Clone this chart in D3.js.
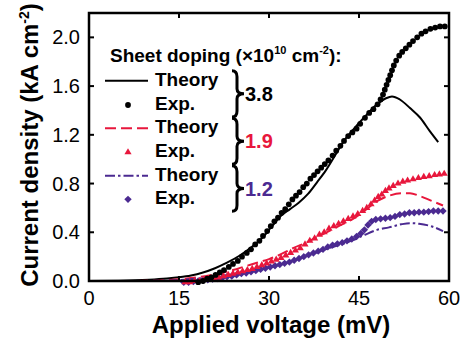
<!DOCTYPE html>
<html>
<head>
<meta charset="utf-8">
<script src="https://cdn.jsdelivr.net/npm/d3@7"></script>
<style>
  body { margin: 0; background: #fff; }
  text { font-family: "Liberation Sans", Arial, sans-serif; }
</style>
</head>
<body>
<div id="canvas"></div>
<script>
"use strict"

/* Data: [voltage mV, current density kA/cm2] */
let exp38 = [
  [18.2,-0.01],[19.0,0.00],[19.7,0.02],[20.4,0.03],[21.1,0.05],[21.8,0.07],[22.5,0.09],
  [23.3,0.115],[24.0,0.14],[24.8,0.165],[25.5,0.20],[26.3,0.23],[27.0,0.26],[27.7,0.30],
  [28.4,0.33],[29.0,0.37],[29.7,0.41],[30.3,0.45],[30.9,0.49],[31.5,0.52],[32.1,0.56],
  [32.7,0.59],[33.3,0.63],[33.9,0.67],[34.5,0.70],[35.1,0.73],[35.7,0.77],[36.3,0.80],
  [36.9,0.84],[37.5,0.87],[38.1,0.90],[38.7,0.93],[39.3,0.96],[39.9,0.99],[40.6,1.03],
  [41.2,1.07],[41.9,1.11],[42.5,1.15],[43.2,1.19],[43.9,1.22],[44.6,1.25],[45.2,1.29],
  [46.0,1.34],[46.7,1.38],[47.4,1.41],[48.1,1.45],[48.6,1.49],[49.0,1.53],[49.3,1.57],
  [49.6,1.61],[49.9,1.65],[50.2,1.69],[50.5,1.73],[50.8,1.77],[51.2,1.81],[51.7,1.85],
  [52.2,1.88],[52.8,1.91],[53.4,1.94],[54.0,1.97],[54.7,2.00],[55.4,2.03],[56.1,2.05],
  [56.9,2.07],[57.7,2.08],[58.5,2.09],[59.3,2.09]
];
let theory38 = [
  [0,0],[5,0.002],[10,0.01],[13,0.02],[15,0.03],[17,0.045],[19,0.07],[21,0.105],[23,0.15],
  [25,0.205],[27,0.275],[29,0.36],[30.5,0.45],[32,0.535],[33.5,0.59],[35,0.645],[36.5,0.715],
  [38,0.81],[39.5,0.91],[41,1.03],[42.5,1.15],[44,1.24],[46,1.35],[48,1.45],[49.5,1.50],
  [50.5,1.515],[51.8,1.49],[53.5,1.42],[55.2,1.34],[56.8,1.23],[58.2,1.14]
];
let exp19 = [
  [16.0,-0.01],[16.8,-0.01],[17.6,0.0],[18.4,0.0],[19.2,0.01],[20.0,0.015],[20.8,0.02],
  [21.6,0.03],[22.4,0.04],[23.2,0.05],[24.0,0.06],[24.8,0.07],[25.6,0.08],[26.4,0.09],
  [27.2,0.10],[28.0,0.115],[28.8,0.13],[29.6,0.145],[30.4,0.16],[31.2,0.175],[32.0,0.19],
  [32.8,0.21],[33.6,0.23],[34.4,0.25],[35.2,0.27],[36.0,0.30],[36.8,0.33],[37.6,0.35],
  [38.4,0.38],[39.2,0.40],[40.0,0.43],[40.8,0.45],[41.6,0.47],[42.4,0.49],[43.2,0.51],
  [44.0,0.53],[44.8,0.55],[45.6,0.575],[46.3,0.60],[47.0,0.63],[47.6,0.66],[48.2,0.69],
  [48.8,0.71],[49.4,0.74],[50.0,0.76],[50.7,0.78],[51.5,0.80],[52.3,0.815],[53.1,0.825],
  [54.0,0.835],[54.9,0.845],[55.8,0.855],[56.7,0.86],[57.6,0.87],[58.4,0.875],[59.2,0.88]
];
let theory19 = [
  [8,0],[12,0.005],[15,0.015],[18,0.03],[20,0.045],[22,0.065],[24,0.09],[26,0.12],[28,0.15],
  [30,0.18],[32,0.22],[34,0.27],[36,0.31],[38,0.36],[40,0.41],[42,0.46],[44,0.51],[46,0.58],
  [48,0.655],[50,0.70],[52,0.72],[53.5,0.72],[55,0.70],[57,0.66],[59,0.62]
];
let exp12 = [
  [15.8,-0.01],[16.6,-0.01],[17.4,-0.005],[18.2,0.0],[19.0,0.005],[19.8,0.01],[20.6,0.015],
  [21.4,0.02],[22.2,0.025],[23.0,0.035],[23.8,0.04],[24.6,0.05],[25.4,0.06],[26.2,0.065],
  [27.0,0.075],[27.8,0.085],[28.6,0.095],[29.4,0.105],[30.2,0.115],[31.0,0.125],[31.8,0.135],
  [32.6,0.145],[33.4,0.155],[34.2,0.17],[35.0,0.185],[35.8,0.20],[36.6,0.215],[37.4,0.23],
  [38.2,0.245],[39.0,0.26],[39.8,0.28],[40.6,0.295],[41.4,0.305],[42.2,0.315],[43.0,0.33],
  [43.8,0.345],[44.6,0.365],[45.3,0.39],[45.9,0.42],[46.5,0.46],[47.1,0.49],[47.8,0.505],
  [48.6,0.51],[49.4,0.515],[50.2,0.52],[51.0,0.53],[51.8,0.545],[52.6,0.55],[53.4,0.56],
  [54.2,0.56],[55.0,0.565],[55.8,0.565],[56.6,0.57],[57.4,0.575],[58.2,0.575],[59.0,0.575]
];
let theory12 = [
  [10,0],[14,0.005],[18,0.02],[20,0.03],[22,0.04],[24,0.055],[26,0.07],[28,0.09],[30,0.11],
  [32,0.135],[34,0.165],[36,0.20],[38,0.235],[40,0.27],[42,0.30],[44,0.335],[46,0.38],
  [48,0.42],[50,0.44],[52,0.465],[53.5,0.475],[55,0.47],[57,0.45],[59,0.41]
];

let xTicks = [0, 15, 30, 45, 60];
let yTicks = [0, 0.4, 0.8, 1.2, 1.6, 2.0];
let dopings = ["3.8", "1.9", "1.2"];

/* Drawing config */
let svgWidth = 468, svgHeight = 347;
let plotLeft = 89, plotRight = 449, plotTop = 13, plotBottom = 281;
let red = "#e8173c", purple = "#4b2a91";

let svg = d3.select("#canvas").append("svg")
  .attr("width", svgWidth).attr("height", svgHeight);

let xScale = d3.scaleLinear().domain([0, 60]).range([plotLeft, plotRight]);
let yScale = d3.scaleLinear().domain([0, 2.2]).range([plotBottom, plotTop]);

let line = d3.line()
  .x(function(d) { return xScale(d[0]); })
  .y(function(d) { return yScale(d[1]); })
  .curve(d3.curveMonotoneX);

/* theory curves */
let theories = [
  {data: theory38, color: "#000", dash: null},
  {data: theory19, color: red, dash: "11,5"},
  {data: theory12, color: purple, dash: "10,3,2.5,3"}
];
theories.forEach(function(t) {
  svg.append("path")
    .attr("d", line(t.data))
    .attr("fill", "none")
    .attr("stroke", t.color)
    .attr("stroke-width", 2)
    .attr("stroke-dasharray", t.dash);
});

/* experimental points */
let symCircle = d3.symbol().type(d3.symbolCircle).size(26);
let symTri = d3.symbol().type(d3.symbolTriangle).size(22);
let symDia = d3.symbol().type(d3.symbolSquare).size(27);

let exps = [
  {data: exp12, color: purple, sym: symDia, rot: 45},
  {data: exp19, color: red, sym: symTri, rot: 0},
  {data: exp38, color: "#000", sym: symCircle, rot: 0}
];
exps.forEach(function(e) {
  svg.append("g").selectAll("path")
    .data(e.data)
    .enter()
    .append("path")
    .attr("d", e.sym())
    .attr("fill", e.color)
    .attr("transform", function(d) {
      return "translate(" + xScale(d[0]) + "," + yScale(d[1]) + ") rotate(" + e.rot + ")";
    });
});

/* frame */
svg.append("rect")
  .attr("x", plotLeft).attr("y", plotTop)
  .attr("width", plotRight - plotLeft).attr("height", plotBottom - plotTop)
  .attr("fill", "none").attr("stroke", "#000").attr("stroke-width", 2.5);

/* inward ticks */
let tickLen = 5;
let innerX = xTicks.slice(1, -1), innerY = yTicks.slice(1);
innerX.forEach(function(v) {
  svg.append("line").attr("x1", xScale(v)).attr("x2", xScale(v))
    .attr("y1", plotBottom).attr("y2", plotBottom - tickLen)
    .attr("stroke", "#000").attr("stroke-width", 2);
  svg.append("line").attr("x1", xScale(v)).attr("x2", xScale(v))
    .attr("y1", plotTop).attr("y2", plotTop + tickLen)
    .attr("stroke", "#000").attr("stroke-width", 2);
});
innerY.forEach(function(v) {
  svg.append("line").attr("x1", plotLeft).attr("x2", plotLeft + tickLen)
    .attr("y1", yScale(v)).attr("y2", yScale(v))
    .attr("stroke", "#000").attr("stroke-width", 2);
  svg.append("line").attr("x1", plotRight).attr("x2", plotRight - tickLen)
    .attr("y1", yScale(v)).attr("y2", yScale(v))
    .attr("stroke", "#000").attr("stroke-width", 2);
});

/* tick labels */
svg.append("g").selectAll("text")
  .data(xTicks).enter().append("text")
  .attr("x", function(d) { return xScale(d); })
  .attr("y", 305)
  .attr("text-anchor", "middle")
  .style("font-size", "20px")
  .text(function(d) { return d; });

svg.append("g").selectAll("text")
  .data(yTicks).enter().append("text")
  .attr("x", 80)
  .attr("y", function(d) { return yScale(d) + 7; })
  .attr("text-anchor", "end")
  .style("font-size", "20px")
  .text(function(d) { return d.toFixed(1); });

/* axis titles */
svg.append("text")
  .attr("x", 271).attr("y", 333)
  .attr("text-anchor", "middle")
  .style("font-size", "24px").style("font-weight", "bold")
  .text("Applied voltage (mV)");

let yt = svg.append("text")
  .attr("transform", "translate(38,145) rotate(-90)")
  .attr("text-anchor", "middle")
  .style("font-size", "24px").style("font-weight", "bold");
yt.append("tspan").text("Current density (kA cm");
yt.append("tspan").attr("dy", -9).style("font-size", "14px").text("-2");
yt.append("tspan").attr("dy", 9).text(")");

/* legend */
let hd = svg.append("text")
  .attr("x", 110).attr("y", 62)
  .style("font-size", "19px").style("font-weight", "bold");
hd.append("tspan").text("Sheet doping (\u00d710");
hd.append("tspan").attr("dy", -8).style("font-size", "11px").text("10");
hd.append("tspan").attr("dy", 8).text(" cm");
hd.append("tspan").attr("dy", -8).style("font-size", "11px").text("-2");
hd.append("tspan").attr("dy", 8).text("):");

let rowY = [85.7, 110, 133.3, 157.3, 180.7, 204.3];
let legColors = ["#000", red, purple];
for (let i = 0; i < 3; i = i + 1) {
  let yT = rowY[2 * i], yE = rowY[2 * i + 1];

  svg.append("line")
    .attr("x1", 105).attr("x2", 148)
    .attr("y1", yT - 5).attr("y2", yT - 5)
    .attr("stroke", theories[i].color).attr("stroke-width", 2)
    .attr("stroke-dasharray", theories[i].dash);
  svg.append("text").attr("x", 155).attr("y", yT)
    .style("font-size", "19px").style("font-weight", "bold").text("Theory");

  let e = exps[2 - i];
  svg.append("path").attr("d", e.sym())
    .attr("fill", e.color)
    .attr("transform", "translate(128," + (yE - 5) + ") rotate(" + e.rot + ")");
  svg.append("text").attr("x", 155).attr("y", yE)
    .style("font-size", "19px").style("font-weight", "bold").text("Exp.");

  /* curly brace for the pair */
  let y0 = yT - 15, y1 = yE + 7, m = (y0 + y1) / 2, bx = 237;
  svg.append("path")
    .attr("d", "M" + (bx - 5) + "," + y0 + " Q" + bx + "," + y0 + " " + bx + "," + (y0 + 6) +
      " L" + bx + "," + (m - 5) + " Q" + bx + "," + m + " " + (bx + 7) + "," + m +
      " Q" + bx + "," + m + " " + bx + "," + (m + 5) +
      " L" + bx + "," + (y1 - 6) + " Q" + bx + "," + y1 + " " + (bx - 5) + "," + y1)
    .attr("fill", "none").attr("stroke", "#000").attr("stroke-width", 3);

  svg.append("text").attr("x", 245).attr("y", m + 7)
    .style("font-size", "20px").style("font-weight", "bold")
    .style("fill", legColors[i]).text(dopings[i]);
}
</script>
</body>
</html>
